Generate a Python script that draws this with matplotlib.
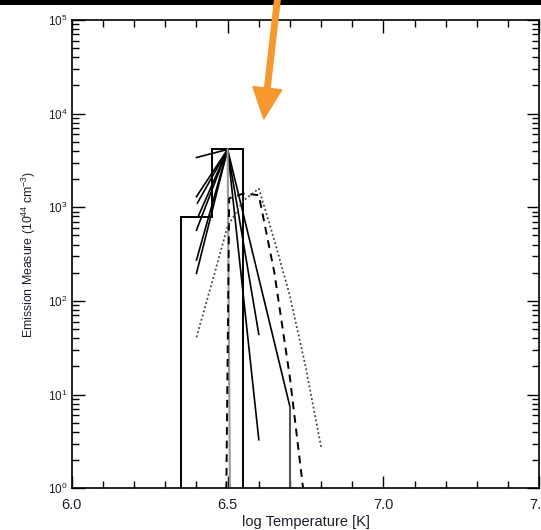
import matplotlib
matplotlib.use('Agg')
import matplotlib.pyplot as plt
import numpy as np
from matplotlib.patches import Rectangle, FancyArrow
from matplotlib.ticker import MultipleLocator, LogLocator, LogFormatterMathtext, NullFormatter

plt.rcParams['font.family'] = ['Liberation Sans', 'DejaVu Sans']
plt.rcParams['mathtext.fontset'] = 'custom'
plt.rcParams['mathtext.rm'] = 'Liberation Sans'
plt.rcParams['mathtext.it'] = 'Liberation Sans:italic'
plt.rcParams['mathtext.bf'] = 'Liberation Sans:bold'
plt.rcParams['mathtext.default'] = 'regular'

# ---- data ----
hist_edges = [6.35, 6.45, 6.55]
hist_vals = [780, 4150]

peak_T = 6.50
peak_EM = 4150

fan_left_T = [6.40, 6.40, 6.403, 6.405, 6.40, 6.40, 6.40]
fan_left_EM = [3400, 1300, 1110, 790, 570, 273, 197]

fan_right_T = [6.60, 6.60, 6.70]
fan_right_EM = [3.3, 44, 7.4]

grey_T = [6.50, 6.51]
grey_EM = [4150, 0.05]

drop_T = [6.70, 6.70]
drop_EM = [7.4, 0.05]

dash_T = [6.495, 6.505, 6.55, 6.60, 6.65, 6.70, 6.75]
dash_EM = [0.5, 1250, 1400, 1350, 200, 15, 0.6]

dot_T = [6.40, 6.45, 6.50, 6.55, 6.60, 6.65, 6.70, 6.75, 6.80]
dot_EM = [41, 158, 630, 1175, 1585, 447, 112, 20, 2.75]

xticks = [6.0, 6.5, 7.0, 7.5]
xticklabels = ['6.0', '6.5', '7.0', '7.5']

# ---- figure ----
fig = plt.figure(figsize=(5.41, 5.30), dpi=100)
ax = fig.add_axes([0.1327, 0.0787, 0.8642, 0.8836])
ax.set_yscale('log')
ax.set_xlim(6.0, 7.5)
ax.set_ylim(1, 1e5)

# histogram
ax.stairs(hist_vals, hist_edges, baseline=0.01, fill=False, color='black', lw=1.4)

# left fan of loci lines
for t, em in zip(fan_left_T, fan_left_EM):
    ax.plot([t, peak_T], [em, peak_EM], color='black', lw=1.2)
# right fan
for t, em in zip(fan_right_T, fan_right_EM):
    ax.plot([peak_T, t], [peak_EM, em], color='black', lw=1.2)
ax.plot(grey_T, grey_EM, color='#9a9a9a', lw=1.5)
ax.plot(drop_T, drop_EM, color='#555555', lw=1.5)

# dashed and dotted curves
ax.plot(dash_T, dash_EM, color='black', lw=1.4, linestyle=(0, (4, 3)))
ax.plot(dot_T, dot_EM, color='#444444', lw=1.3, linestyle=(0, (1, 1.4)))

# axes style
ax.set_xticks(xticks)
ax.set_xticklabels(xticklabels)
ax.xaxis.set_minor_locator(MultipleLocator(0.1))
ax.yaxis.set_major_locator(LogLocator(base=10, numticks=10))
ax.yaxis.set_minor_locator(LogLocator(base=10, subs=np.arange(2, 10), numticks=20))
ax.yaxis.set_major_formatter(LogFormatterMathtext())
ax.yaxis.set_minor_formatter(NullFormatter())
ax.tick_params(which='both', direction='in', top=True, right=True, width=1.0, colors='black')
ax.tick_params(which='major', length=9)
ax.tick_params(which='minor', length=5)
ax.tick_params(axis='x', which='major', labelsize=10.5, pad=7, labelcolor='#1c1c2e')
ax.tick_params(axis='y', which='major', labelsize=8.5, pad=3, labelcolor='#1c1c2e')
for s in ax.spines.values():
    s.set_linewidth(1.2)

ax.set_xlabel('log Temperature [K]', fontsize=10.5, color='#1c1c2e', labelpad=2)
ax.set_ylabel('Emission Measure (10$^{44}$ cm$^{-3}$)', fontsize=8.8, color='#1c1c2e', labelpad=7)

# top black band and orange arrow annotation
fig.patches.append(Rectangle((0, 5.25), 5.41, 0.06, transform=fig.dpi_scale_trans,
                             facecolor='black', edgecolor='none', zorder=5))
fig.patches.append(FancyArrow(2.776, 5.32, -0.138, -1.21, width=0.055, head_width=0.29,
                              head_length=0.31, length_includes_head=True,
                              transform=fig.dpi_scale_trans, color='#f7982f',
                              edgecolor='none', zorder=6))

fig.savefig('out.png', dpi=100)
